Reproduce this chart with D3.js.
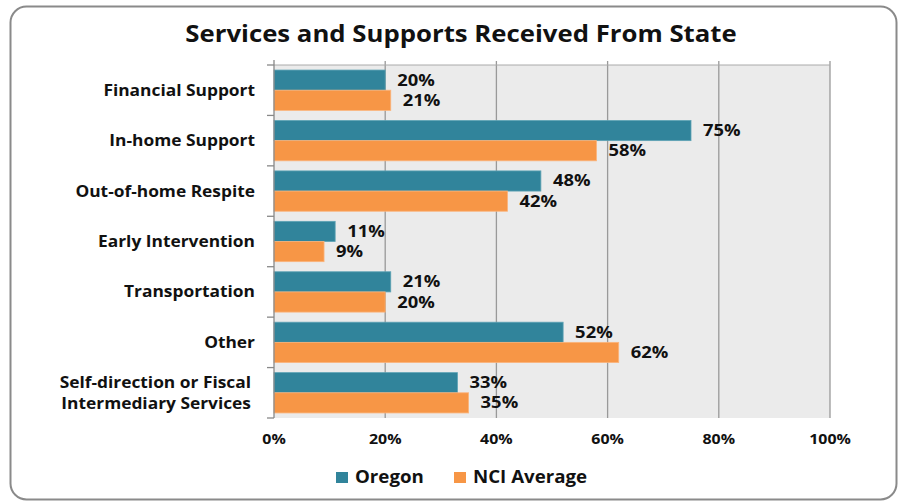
<!DOCTYPE html>
<html><head><meta charset="utf-8">
<script src="https://cdn.jsdelivr.net/npm/d3@7"></script>
<style>body{margin:0;background:#fff;} svg{display:block;font-family:"Open Sans",sans-serif;}</style>
</head><body><svg id="c" width="900" height="502"></svg>
<script>
const categories = ["Financial Support","In-home Support","Out-of-home Respite","Early Intervention","Transportation","Other","Self-direction or Fiscal Intermediary Services"];
const oregon = [20,75,48,11,21,52,33];
const nciAverage = [21,58,42,9,20,62,35];
const seriesNames = ["Oregon","NCI Average"];
const colors = ["#31849B","#F79646"];
const xTicks = [0,20,40,60,80,100];

const svg = d3.select("#c");
function label(parent, x, y, txt, size, sx, anchor){
  return parent.append("text")
    .attr("transform",`translate(${x},${y}) scale(${sx},1)`)
    .attr("text-anchor",anchor||"start").attr("font-size",size).attr("font-weight","bold").attr("fill","#111").text(txt);
}

svg.append("rect").attr("x",10.5).attr("y",6.5).attr("width",886).attr("height",493).attr("rx",16)
  .attr("fill","#fff").attr("stroke","#8a8a8a").attr("stroke-width",2);

label(svg, 461, 42, "Services and Supports Received From State", 23, 1.12, "middle");

const L=274, R=830, T=65, B=418;
const x = d3.scaleLinear().domain([0,100]).range([L,R]);
const y = d3.scaleBand().domain(categories).range([T,B]).paddingInner(0.2).paddingOuter(0.1);
const sub = d3.scaleBand().domain(seriesNames).range([0,y.bandwidth()]);

svg.append("rect").attr("x",L).attr("y",T).attr("width",R-L).attr("height",B-T).attr("fill","#EBEBEB");
svg.append("g").selectAll("line").data(xTicks.slice(1)).join("line")
  .attr("x1",d=>x(d)).attr("x2",d=>x(d)).attr("y1",T-4).attr("y2",B).attr("stroke","#999").attr("stroke-width",1.3);
svg.append("line").attr("x1",L).attr("x2",R).attr("y1",T).attr("y2",T).attr("stroke","#aaa");

const step = (B-T)/categories.length;
const data = categories.map((c,i)=>({c, vals:[oregon[i],nciAverage[i]]}));
const g = svg.append("g");
data.forEach((d,i)=>{
  d.vals.forEach((v,j)=>{
    const yy = y(d.c)+sub(seriesNames[j]);
    g.append("rect").attr("x",x(0)).attr("y",yy).attr("width",x(v)-x(0)).attr("height",sub.bandwidth())
      .attr("fill",colors[j]).attr("stroke",j?"#fbb47c":"#5ea3b5").attr("stroke-width",0.8);
    label(g, x(v)+12, yy+sub.bandwidth()/2+5.5, v+"%", 16, 1.15);
  });
});

// left axis
const ax = svg.append("g");
ax.append("line").attr("x1",L).attr("x2",L).attr("y1",T-5).attr("y2",B).attr("stroke","#888").attr("stroke-width",1.3);
d3.range(categories.length+1).forEach(i=>{
  ax.append("line").attr("x1",L-7).attr("x2",L).attr("y1",T+i*step).attr("y2",T+i*step).attr("stroke","#888").attr("stroke-width",1.3);
});
categories.forEach((c,i)=>{
  const cy = y(c)+y.bandwidth()/2;
  if(c.startsWith("Self-direction")){
    label(ax, 251, cy-5, "Self-direction or Fiscal", 15.5, 1.12, "end");
    label(ax, 251, cy+16, "Intermediary Services", 15.5, 1.12, "end");
  } else {
    label(ax, 255, cy+5.5, c, 15.5, 1.12, "end");
  }
});

const xt = svg.append("g");
xTicks.forEach(d=>label(xt, x(d), 444, d+"%", 14.5, 1.1, "middle"));

const lg = svg.append("g");
const items=[{n:seriesNames[0],c:colors[0],x:336},{n:seriesNames[1],c:colors[1],x:454}];
items.forEach(it=>{
  lg.append("rect").attr("x",it.x).attr("y",472).attr("width",12).attr("height",11).attr("fill",it.c);
  label(lg, it.x+19, 483, it.n, 17, 1.1);
});
</script></body></html>
